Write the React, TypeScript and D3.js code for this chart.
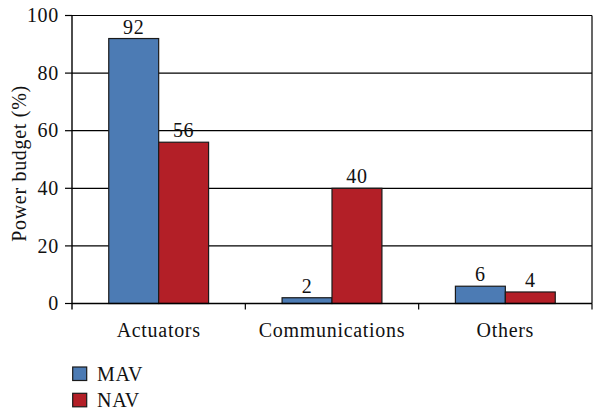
import React from "react";
import * as d3 from "d3";

const categories = ["Actuators", "Communications", "Others"];
const seriesNames = ["MAV", "NAV"];
const mavValues = [92, 2, 6];
const navValues = [56, 40, 4];
const yTicks = [0, 20, 40, 60, 80, 100];
const colors = ["#4c7bb4", "#b31f27"];

export default function App() {
  const W = 596, H = 410;
  const left = 72, right = 592, top = 15.5, bottom = 303.5;
  const font = "'Liberation Serif', 'DejaVu Serif', serif";
  const fs = 20;
  const ls = 0.7;
  const x = d3.scaleBand().domain(categories).range([left, right]).paddingInner(0).paddingOuter(0);
  const y = d3.scaleLinear().domain([0, 100]).range([bottom, top]);
  const barW = x.bandwidth() * 0.288;
  const series = [mavValues, navValues];
  return (
    <svg width={W} height={H} style={{ position: "absolute", left: 0, top: 0 }} fontFamily={font} fill="#111">
      <rect x={0} y={0} width={W} height={H} fill="#fff" />
      {yTicks.filter((t) => t > 0).map((t) => (
        <line key={"g" + t} x1={left} x2={right} y1={y(t)} y2={y(t)} stroke="#000" strokeWidth={1.2} />
      ))}
      <line x1={right} x2={right} y1={top} y2={bottom} stroke="#000" strokeWidth={1.2} />
      {categories.map((c, i) =>
        series.map((vals, s) => {
          const cx = x(c)! + x.bandwidth() / 2;
          const bx = cx - barW + s * barW;
          return (
            <g key={c + s}>
              <rect x={bx} y={y(vals[i])} width={barW} height={bottom - y(vals[i])} fill={colors[s]} stroke="#1a1a1a" strokeWidth={1.2} />
              <text x={bx + barW / 2} y={y(vals[i]) - 5} textAnchor="middle" fontSize={fs} letterSpacing={ls}>{vals[i]}</text>
            </g>
          );
        })
      )}
      <line x1={left} x2={left} y1={top} y2={bottom + 6} stroke="#000" strokeWidth={1.4} />
      <line x1={left} x2={right} y1={bottom} y2={bottom} stroke="#000" strokeWidth={1.4} />
      {yTicks.map((t) => (
        <g key={"t" + t}>
          <line x1={left - 7} x2={left} y1={y(t)} y2={y(t)} stroke="#000" strokeWidth={1.2} />
          <text x={left - 13} y={y(t)} dy="0.33em" textAnchor="end" fontSize={fs} letterSpacing={ls}>{t}</text>
        </g>
      ))}
      {categories.map((c, i) => (
        <g key={"c" + c}>
          {i > 0 && <line x1={x(c)} x2={x(c)} y1={bottom} y2={bottom + 6} stroke="#000" strokeWidth={1.2} />}
          <text x={x(c)! + x.bandwidth() / 2} y={336.5} textAnchor="middle" fontSize={fs} letterSpacing={ls}>{c}</text>
        </g>
      ))}
      <line x1={right} x2={right} y1={bottom} y2={bottom + 6} stroke="#000" strokeWidth={1.2} />
      <text transform={`translate(26,${(top + bottom) / 2 + 4}) rotate(-90)`} textAnchor="middle" fontSize={fs} letterSpacing={ls}>Power budget (%)</text>
      {seriesNames.map((n, s) => (
        <g key={n}>
          <rect x={72.7} y={367 + s * 26.3} width={14} height={13.5} fill={colors[s]} stroke="#1a1a1a" strokeWidth={1.2} />
          <text x={97} y={380.7 + s * 26} fontSize={fs} letterSpacing={ls}>{n}</text>
        </g>
      ))}
    </svg>
  );
}
